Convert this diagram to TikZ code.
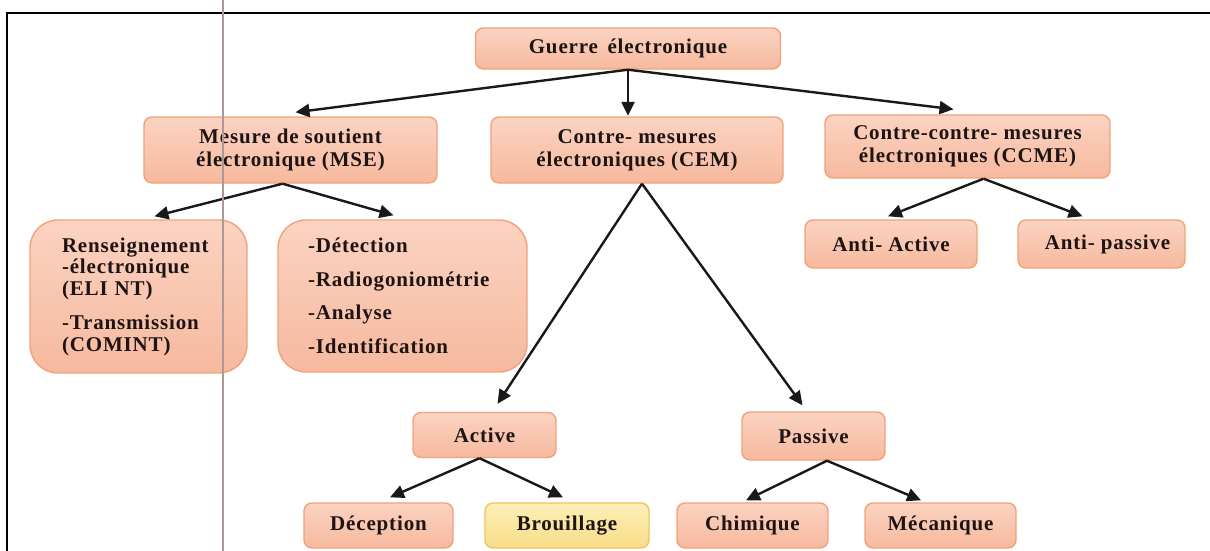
\documentclass[tikz,border=0pt]{standalone}
\usepackage{fontspec}
\setmainfont{Liberation Serif}[LetterSpace=4]
\usetikzlibrary{arrows.meta}
\definecolor{boxtop}{HTML}{FBD3C2}
\definecolor{boxbot}{HTML}{F6B99E}
\definecolor{boxline}{HTML}{F0A27C}
\definecolor{yelltop}{HTML}{FCF0B8}
\definecolor{yellbot}{HTML}{F8DC88}
\definecolor{yellline}{HTML}{EFC65A}
\definecolor{ink}{HTML}{1E1414}
\definecolor{scanline}{HTML}{AD9898}

\begin{document}
\begin{tikzpicture}[x=1pt,y=-1pt,
  every node/.style={font=\fontsize{21}{21.5}\selectfont\bfseries, text=ink},
  box/.style={draw=boxline, line width=1.4pt, rounded corners=8pt,
    top color=boxtop, bottom color=boxbot, align=center, inner sep=0pt},
  bigbox/.style={box, rounded corners=28pt, align=left},
  yellbox/.style={box, draw=yellline, top color=yelltop, bottom color=yellbot},
  link/.style={draw=black!90, line width=2.4pt, -{Triangle[length=14pt,width=13pt]}}
]
\useasboundingbox (0,0) rectangle (1210,551);
\fill[white] (0,0) rectangle (1210,551);

% outer frame
\draw[line width=2pt] (7,551) -- (7,13) -- (1210,13);

% level 0
\node[box, minimum width=305pt, minimum height=41pt] (g) at (628,48.5) {Guerre\, électronique};

% level 1
\node[box, minimum width=293pt, minimum height=66pt] (mse) at (290.5,150) {Mesure de soutient\\[1.5pt]électronique (MSE)};
\node[box, minimum width=292pt, minimum height=66pt] (cem) at (637,150) {Contre- mesures\\[1.5pt]électroniques (CEM)};
\node[box, minimum width=285pt, minimum height=63pt] (ccme) at (967.5,146.5) {Contre-contre- mesures\\[1.5pt]électroniques (CCME)};

% children of CCME
\node[box, minimum width=172pt, minimum height=48pt] (aa) at (891,244) {Anti- Active};
\node[box, minimum width=167pt, minimum height=48pt] (ap) at (1101.5,244) {\hspace{12pt}Anti- passive};

% children of MSE
\node[bigbox, minimum width=217pt, minimum height=153pt, text width=153pt] (rens) at (138.5,296.5)
  {Renseignement\\-électronique\\(ELI NT)\\[13pt]-Transmission\\(COMINT)};
\node[bigbox, minimum width=249pt, minimum height=152pt, text width=189pt] (det) at (402.5,296)
  {-Détection\\[12pt]-Radiogoniométrie\\[12pt]-Analyse\\[12pt]-Identification};

% children of CEM
\node[box, minimum width=143pt, minimum height=45pt] (act) at (484.5,435) {Active};
\node[box, minimum width=143pt, minimum height=48pt] (pas) at (813.5,436) {Passive};

% bottom row
\node[box, minimum width=149pt, minimum height=45pt] (dec) at (378.5,525.5) {Déception};
\node[yellbox, minimum width=164pt, minimum height=45pt] (brou) at (567,525.5) {Brouillage};
\node[box, minimum width=151pt, minimum height=45pt] (chim) at (752.5,525.5) {Chimique};
\node[box, minimum width=151pt, minimum height=45pt] (meca) at (940.5,525.5) {Mécanique};

% connectors
\draw[link] (g.south) -- ([xshift=5pt,yshift=4pt]mse.north);
\draw[link] (g.south) -- ([xshift=-9pt,yshift=0.5pt]cem.north);
\draw[link] (g.south) -- ([xshift=-14pt,yshift=5pt]ccme.north);

\draw[link] ([xshift=-8pt]mse.south) -- ([xshift=16pt,yshift=3pt]rens.north);
\draw[link] ([xshift=-8pt]mse.south) -- ([xshift=-9pt,yshift=4pt]det.north);

\draw[link] ([xshift=5pt]cem.south) -- ([xshift=13pt,yshift=8pt]act.north);
\draw[link] ([xshift=5pt]cem.south) -- ([xshift=-11pt,yshift=6pt]pas.north);

\draw[link] ([xshift=16pt]ccme.south) -- ([xshift=-3pt,yshift=3pt]aa.north);
\draw[link] ([xshift=16pt]ccme.south) -- ([xshift=-19pt,yshift=3pt]ap.north);

\draw[link] ([xshift=-5pt]act.south) -- ([xshift=11.5pt,yshift=5pt]dec.north);
\draw[link] ([xshift=-5pt]act.south) -- ([xshift=-4pt,yshift=5pt]brou.north);

\draw[link] ([xshift=13.5pt]pas.south) -- ([xshift=-6.5pt,yshift=2pt]chim.north);
\draw[link] ([xshift=13.5pt]pas.south) -- ([xshift=-19.5pt,yshift=2pt]meca.north);

% vertical rule across the sheet
\draw[scanline, line width=2.5pt] (223,0) -- (223,551);
\end{tikzpicture}
\end{document}
